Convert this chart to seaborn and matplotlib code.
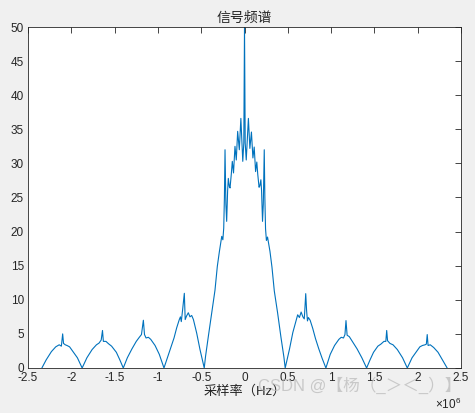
import matplotlib
matplotlib.use('Agg')
import matplotlib.pyplot as plt
import seaborn as sns
import pandas as pd

# 频率 (x10^6 Hz) and amplitude
freq = [-2.34, -2.29, -2.23, -2.18, -2.14, -2.115, -2.10, -2.09, -2.07, -2.05, -2.02, -1.98, -1.93, -1.875,
        -1.82, -1.76, -1.71, -1.68, -1.655, -1.64, -1.63, -1.60, -1.57, -1.535, -1.48, -1.44, -1.40,
        -1.353, -1.30, -1.25, -1.215, -1.19, -1.168, -1.155, -1.137, -1.11, -1.083, -1.033, -0.984, -0.93,
        -0.89, -0.852, -0.814, -0.783, -0.753, -0.74, -0.73, -0.715, -0.695, -0.685, -0.67, -0.649, -0.63,
        -0.61, -0.59, -0.552, -0.514, -0.483, -0.465,
        -0.45, -0.418, -0.379, -0.341, -0.314, -0.291, -0.263, -0.25, -0.24, -0.232, -0.225, -0.215, -0.206,
        -0.195, -0.187, -0.175, -0.167, -0.152, -0.141, -0.127, -0.11, -0.095, -0.079, -0.06, -0.042, -0.02,
        -0.008, 0.0,
        0.008, 0.02, 0.045, 0.062, 0.08, 0.097, 0.112, 0.128, 0.142, 0.153, 0.168, 0.177, 0.189, 0.197,
        0.208, 0.217, 0.228, 0.235, 0.243, 0.253, 0.266, 0.294, 0.317, 0.344, 0.382, 0.421, 0.455, 0.47,
        0.49, 0.52, 0.558, 0.596, 0.614, 0.634, 0.654, 0.674, 0.69, 0.697, 0.707, 0.717, 0.727, 0.738,
        0.758, 0.788, 0.82, 0.858, 0.897, 0.94,
        0.99, 1.04, 1.09, 1.117, 1.143, 1.16, 1.172, 1.185, 1.21, 1.245, 1.30, 1.355, 1.41,
        1.45, 1.49, 1.54, 1.575, 1.61, 1.632, 1.642, 1.652, 1.68, 1.715, 1.765, 1.825, 1.88,
        1.935, 1.985, 2.025, 2.055, 2.085, 2.10, 2.11, 2.12, 2.145, 2.185, 2.235, 2.29, 2.34]
amp = [0, 1.2, 2.4, 3.1, 3.4, 3.2, 5.0, 3.6, 3.4, 3.3, 3.1, 2.4, 1.5, 0,
       1.5, 2.7, 3.4, 3.65, 4.1, 5.5, 3.9, 3.9, 3.55, 3.2, 2.3, 1.2, 0,
       1.5, 2.8, 3.9, 4.5, 4.9, 7.0, 4.9, 4.4, 4.5, 4.2, 3.3, 2.0, 0,
       1.5, 2.9, 4.4, 5.9, 7.1, 7.5, 6.8, 8.5, 10.95, 7.1, 7.6, 8.1, 7.5,
       7.7, 7.1, 5.1, 2.7, 1.0, 0,
       1.7, 4.6, 8.0, 11.4, 14.9, 17.0, 19.3, 18.8, 20.5, 25, 32, 24, 21.5,
       26, 27.8, 26.6, 26.4, 28.5, 30.3, 28.6, 32.5, 30.5, 34.7, 32.0, 36.6, 30.3,
       33, 50,
       33, 30.5, 36.6, 32.2, 34.6, 30.8, 32.4, 28.8, 30.2, 28.4, 26.5, 26.7, 27.6, 26,
       21.5, 24, 32, 25, 20.4, 18.7, 19.2, 17.1, 14.8, 11.3, 8.1, 4.5, 1.6, 0,
       1.1, 2.8, 5.2, 7.0, 7.8, 7.4, 8.2, 7.5, 7.2, 8.6, 10.9, 8.4, 6.9, 7.4,
       7.0, 5.8, 4.3, 2.8, 1.4, 0,
       2.0, 3.3, 4.2, 4.5, 4.4, 4.9, 6.95, 4.8, 4.6, 3.9, 2.8, 1.5, 0,
       1.2, 2.3, 3.2, 3.5, 3.9, 3.9, 5.5, 4.0, 3.6, 3.4, 2.7, 1.5, 0,
       1.5, 2.4, 3.1, 3.3, 3.4, 3.5, 4.9, 3.3, 3.4, 3.0, 2.3, 1.1, 0]

xticks = [-2.5, -2, -1.5, -1, -0.5, 0, 0.5, 1, 1.5, 2, 2.5]
xticklabels = ['-2.5', '-2', '-1.5', '-1', '-0.5', '0', '0.5', '1', '1.5', '2', '2.5']
yticks = [0, 5, 10, 15, 20, 25, 30, 35, 40, 45, 50]

sns.set_style('white')
plt.rcParams['font.family'] = ['Liberation Sans', 'Noto Sans CJK SC', 'DejaVu Sans']
plt.rcParams['mathtext.fontset'] = 'custom'
plt.rcParams['mathtext.rm'] = 'Liberation Sans'

df = pd.DataFrame({'f': freq, 'a': amp})

fig = plt.figure(figsize=(4.75, 4.13), dpi=100, facecolor='#f0f0f0')
ax = fig.add_axes([0.059, 0.109, 0.9115, 0.8256])
ax.set_facecolor('white')

sns.lineplot(data=df, x='f', y='a', ax=ax, color='#0072BD', linewidth=0.8,
             estimator=None, sort=False)

ax.set_xlim(-2.5, 2.5)
ax.set_ylim(0, 50)
ax.set_xticks(xticks)
ax.set_xticklabels(xticklabels)
ax.set_yticks(yticks)
ax.tick_params(direction='in', length=4, width=0.6, top=True, right=True,
               labelsize=8.5, colors='#262626', pad=3)
for s in ax.spines.values():
    s.set_color('#262626')
    s.set_linewidth(0.6)

ax.set_title('信号频谱', fontsize=10, color='#262626', pad=4)
ax.set_xlabel('采样率（Hz）', fontsize=9.5, color='#262626', labelpad=1)
ax.set_ylabel('')

ax.text(1.0, -0.085, r'$\times10^{6}$', transform=ax.transAxes, ha='right', va='top',
        fontsize=8.5, color='#262626')

# watermark
fig.text(0.543, 0.066, 'CSDN @【杨（_＞＜_）】', fontsize=12, color='#b8b8b8',
         alpha=0.7, ha='left', va='center')

fig.savefig('out.png', dpi=100, facecolor=fig.get_facecolor())
